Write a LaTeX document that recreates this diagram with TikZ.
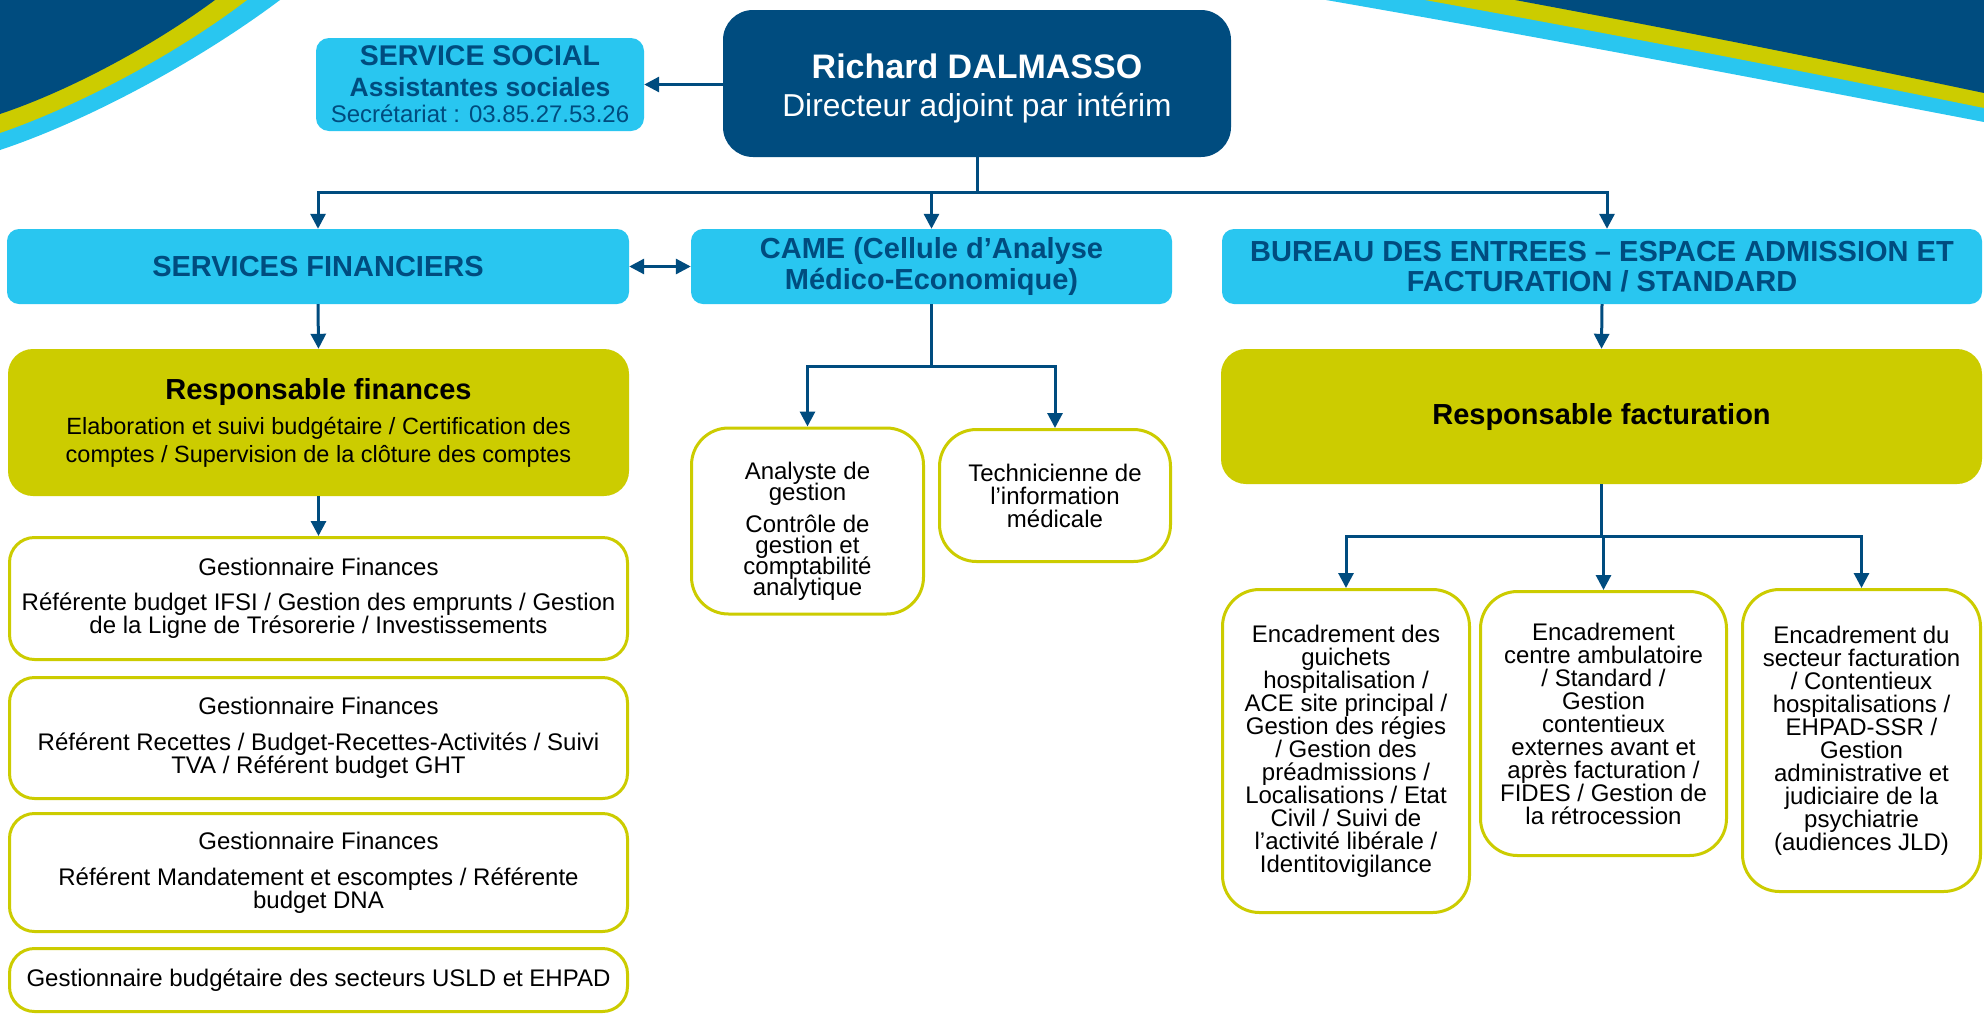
\documentclass[tikz,border=0pt]{standalone}
\usepackage{fontspec}
\setmainfont{Liberation Sans}
\usetikzlibrary{arrows.meta}
\definecolor{navy}{RGB}{0,76,127}
\definecolor{cyanc}{RGB}{41,198,240}
\definecolor{ygreen}{RGB}{204,204,0}
\newcommand\myfs[2]{\fontsize{#1}{#2}\selectfont}
\lineskiplimit=-100pt
\begin{document}
\begin{tikzpicture}[x=1pt,y=-1pt,
  conn/.style={draw=navy, line width=3pt},
  arr/.style={conn, -{Triangle[width=15pt,length=15pt]}},
  darr/.style={conn, {Triangle[width=15pt,length=15pt]}-{Triangle[width=15pt,length=15pt]}},
  dirbox/.style={fill=navy, rounded corners=30pt, text=white, align=center, inner sep=0pt},
  cbox/.style={fill=cyanc, rounded corners=12pt, text=navy, align=center, inner sep=0pt, font=\bfseries\myfs{29}{31}},
  ybox/.style={fill=ygreen, rounded corners=25pt, text=black, align=center, inner sep=0pt},
  wbox/.style={draw=ygreen, line width=3pt, fill=white, rounded corners=25pt, align=center, inner sep=0pt, font=\myfs{24}{23}},
  tbox/.style={wbox, rounded corners=37pt}
]
\useasboundingbox (0,0) rectangle (1984,1018);
\fill[white] (0,0) rectangle (1984,1018);

% decorations top-left
\fill[cyanc] (0,0) -- (280,0) .. controls (200,60) and (90,120) .. (0,150) -- cycle;
\fill[ygreen] (0,0) -- (247,0) .. controls (175,55) and (78,106) .. (0,133) -- cycle;
\fill[navy] (0,0) -- (215,0) .. controls (150,48) and (66,92) .. (0,114) -- cycle;
% decorations top-right
\fill[cyanc] (1326,0) .. controls (1545,38) and (1765,80) .. (1984,122) -- (1984,0) -- cycle;
\fill[ygreen] (1425,0) .. controls (1612,34) and (1798,70) .. (1984,108) -- (1984,0) -- cycle;
\fill[navy] (1515,0) .. controls (1671,29) and (1828,60) .. (1984,93) -- (1984,0) -- cycle;

% top
\node[dirbox, minimum width=508pt, minimum height=147pt, font=\myfs{31.7}{38}] (dir) at (977,83.5)
  {\rule{0pt}{35pt}{\bfseries\myfs{34}{38}Richard DALMASSO}\\Directeur adjoint par intérim};
\node[cbox, rounded corners=13pt, minimum width=328pt, minimum height=93pt, font=\myfs{24}{26}] (social) at (480,84.5)
  {{\bfseries\myfs{28.5}{26}SERVICE SOCIAL}\\[5pt]{\bfseries\myfs{26.5}{26}Assistantes sociales}\\Secrétariat : 03.85.27.53.26};

% second row
\node[cbox, minimum width=622pt, minimum height=75pt] (sf) at (318,266.5) {SERVICES FINANCIERS};
\node[cbox, minimum width=481pt, minimum height=75pt] (came) at (931.5,266.5) {CAME (Cellule d’Analyse\\Médico-Economique)};
\node[cbox, minimum width=760pt, minimum height=75pt, font=\bfseries\myfs{29}{30}] (bureau) at (1602,266.5) {BUREAU DES ENTREES – ESPACE ADMISSION ET\\FACTURATION / STANDARD};

% finances column
\node[ybox, minimum width=621pt, minimum height=147pt, font=\myfs{23.5}{28}] (rfin) at (318.5,422.5)
  {{\bfseries\myfs{29}{28}Responsable finances}\\[7pt]Elaboration et suivi budgétaire / Certification des\\comptes / Supervision de la clôture des comptes};
\node[wbox, minimum width=618pt, minimum height=122pt] (g1) at (318.5,598.5)
  {Gestionnaire Finances\\[12pt]Référente budget IFSI / Gestion des emprunts / Gestion\\de la Ligne de Trésorerie / Investissements};
\node[wbox, minimum width=618pt, minimum height=121pt] (g2) at (318.5,738)
  {Gestionnaire Finances\\[13pt]Référent Recettes / Budget-Recettes-Activités / Suivi\\TVA / Référent budget GHT};
\node[wbox, minimum width=618pt, minimum height=118pt] (g3) at (318.5,872.5)
  {Gestionnaire Finances\\[13pt]Référent Mandatement et escomptes / Référente\\budget DNA};
\node[wbox, minimum width=618pt, minimum height=63pt] (g4) at (318.5,980)
  {Gestionnaire budgétaire des secteurs USLD et EHPAD};

% CAME column
\node[tbox, minimum width=232pt, minimum height=186pt, font=\myfs{24}{21}] (ana) at (807.5,521)
  {\rule{0pt}{37.5pt}Analyste de\\gestion\\[11pt]Contrôle de\\gestion et\\comptabilité\\analytique};
\node[tbox, minimum width=231pt, minimum height=132pt] (tech) at (1055,495.5)
  {Technicienne de\\l’information\\médicale};

% bureau column
\node[ybox, minimum width=761pt, minimum height=135pt] (rfac) at (1601.5,416.5)
  {\bfseries\myfs{29}{30}Responsable facturation};
\node[tbox, minimum width=247pt, minimum height=323pt] (e1) at (1346,751)
  {Encadrement des\\guichets\\hospitalisation /\\ACE site principal /\\Gestion des régies\\/ Gestion des\\préadmissions /\\Localisations / Etat\\Civil / Suivi de\\l’activité libérale /\\Identitovigilance};
\node[tbox, minimum width=246pt, minimum height=264pt] (e2) at (1603.5,723.5)
  {Encadrement\\centre ambulatoire\\/ Standard /\\Gestion\\contentieux\\externes avant et\\après facturation /\\FIDES / Gestion de\\la rétrocession};
\node[tbox, minimum width=238pt, minimum height=302pt] (e3) at (1861.5,740.5)
  {Encadrement du\\secteur facturation\\/ Contentieux\\hospitalisations /\\EHPAD-SSR /\\Gestion\\administrative et\\judiciaire de la\\psychiatrie\\(audiences JLD)};

% connectors
\coordinate (hb) at (977,192);
\draw[conn] (dir.south) -- (hb);
\draw[arr] (hb) -| (sf.north);
\draw[arr] (hb) -| (came.north);
\draw[arr] (hb) -| ([xshift=5pt]bureau.north);
\draw[arr] (dir.west |- social.east) -- (social.east);
\draw[darr] (sf.east) -- (came.west);
\draw[arr] (sf.south) -- (rfin.north);
\draw[arr] (rfin.south) -- (g1.north);

\coordinate (hc) at (931.5,366);
\draw[conn] (came.south) -- (hc);
\draw[arr] (hc) -| (ana.north);
\draw[arr] (hc) -| (tech.north);

\draw[arr] (bureau.south) -- (rfac.north);
\coordinate (he) at (1603,536);
\draw[conn] (rfac.south) -- (rfac.south |- he);
\draw[arr] (he) -| (e1.north);
\draw[arr] (he) -| (e3.north);
\draw[arr] (e2.north |- he) -- (e2.north);
\end{tikzpicture}
\end{document}
